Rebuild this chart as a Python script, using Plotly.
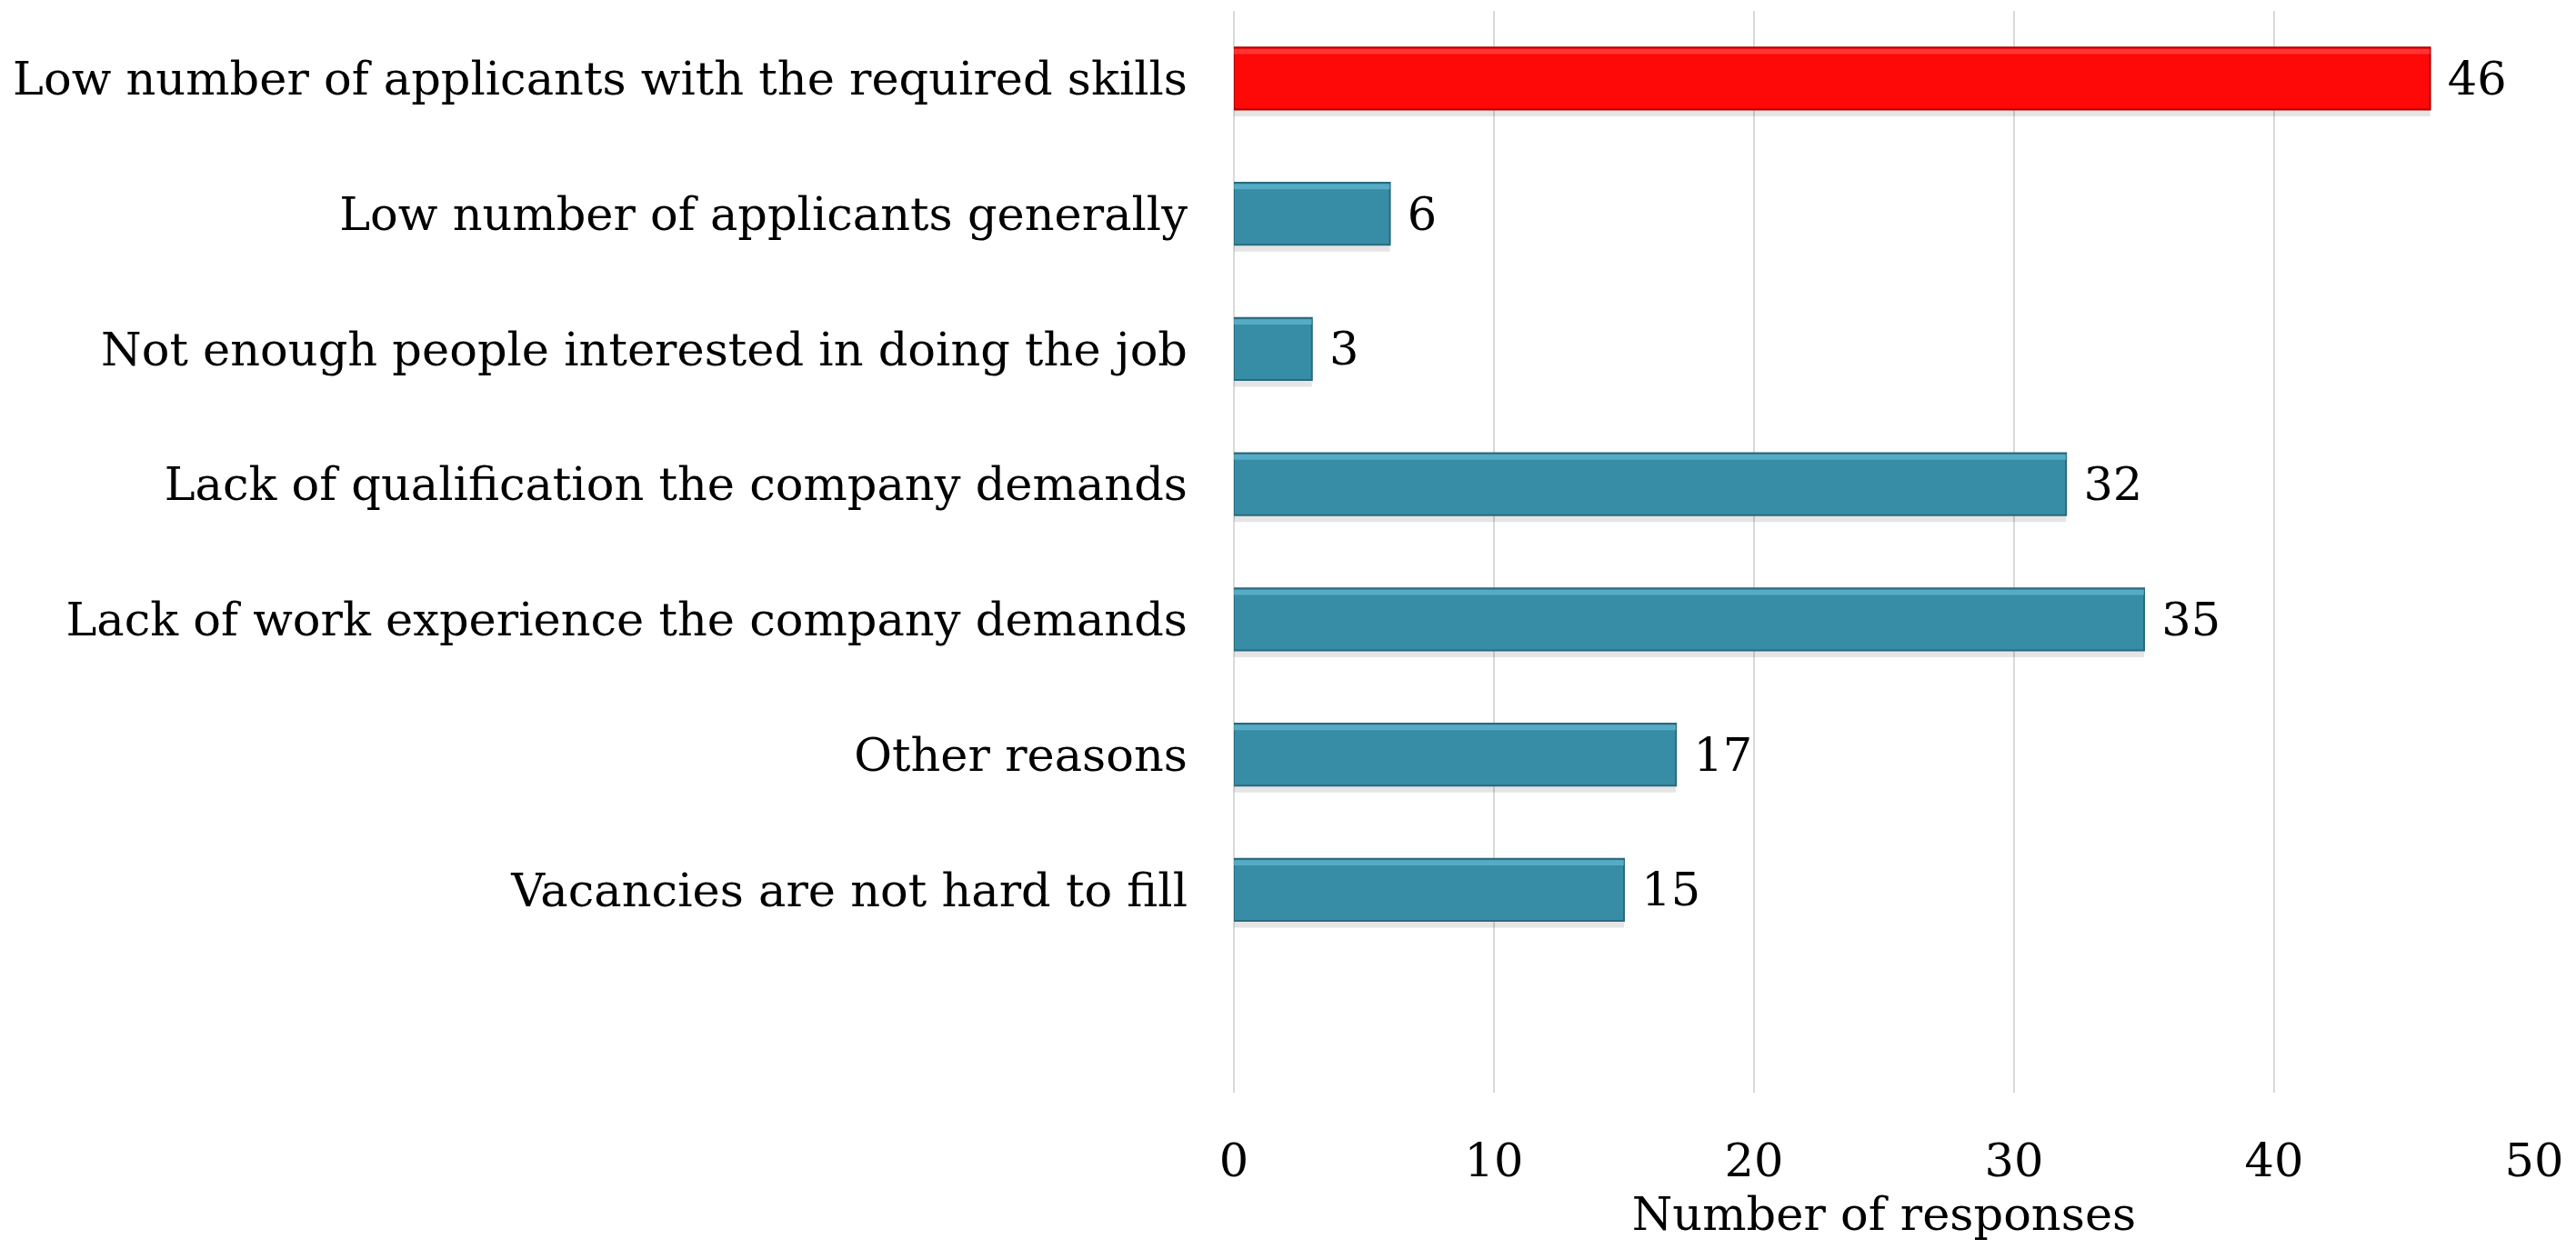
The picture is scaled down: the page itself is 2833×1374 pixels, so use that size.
import plotly.graph_objects as go

# Reasons given for hard-to-fill vacancies
reasons = [
    "Low number of applicants with the required skills",
    "Low number of applicants generally",
    "Not enough people interested in doing the job",
    "Lack of qualification the company demands",
    "Lack of work experience the company demands",
    "Other reasons",
    "Vacancies are not hard to fill",
]
responses = [46, 6, 3, 32, 35, 17, 15]

RED = "#FE0808"
TEAL = "#388DA6"
bar_colors = [RED] + [TEAL] * (len(reasons) - 1)
edge_colors = ["#B00000"] + ["#2A6A7D"] * (len(reasons) - 1)
top_colors = ["#FF5A5A"] + ["#6FC6DE"] * (len(reasons) - 1)

FONT = "DejaVu Serif"
SIZE = 51
BAR_W = 0.46

fig = go.Figure()

# soft drop shadow under each bar
fig.add_trace(go.Bar(
    y=reasons, x=responses, orientation="h",
    width=0.05, offset=BAR_W / 2,
    marker=dict(color="rgba(0,0,0,0.10)", line=dict(width=0)),
    hoverinfo="skip", showlegend=False,
))

# main bars with value labels
fig.add_trace(go.Bar(
    y=reasons, x=responses, orientation="h",
    width=BAR_W, offset=-BAR_W / 2,
    marker=dict(color=bar_colors, line=dict(color=edge_colors, width=2)),
    texttemplate=" %{x}",
    textposition="outside",
    textfont=dict(family=FONT, size=SIZE, color="black"),
    cliponaxis=False,
    showlegend=False,
))

# light bevel strip along the top edge
fig.add_trace(go.Bar(
    y=reasons, x=responses, orientation="h",
    width=0.04, offset=-BAR_W / 2 + 0.01,
    marker=dict(color=top_colors, opacity=0.55, line=dict(width=0)),
    hoverinfo="skip", showlegend=False,
))

fig.update_layout(
    width=2833, height=1374,
    margin=dict(l=1357, r=46, t=12, b=172, autoexpand=False),
    paper_bgcolor="white", plot_bgcolor="white",
    barmode="overlay",
    font=dict(family=FONT, color="black", size=SIZE),
    uniformtext=dict(mode=False),
)

fig.update_xaxes(
    range=[0, 50], dtick=10,
    showgrid=True, gridcolor="#D9D9D9", gridwidth=2,
    zeroline=True, zerolinecolor="#D9D9D9", zerolinewidth=2,
    showline=False, ticks="",
    tickfont=dict(family=FONT, size=SIZE, color="black"),
    ticklabelstandoff=40,
    automargin=False,
    title=dict(text="Number of responses",
               font=dict(family=FONT, size=SIZE, color="black"),
               standoff=0),
)

fig.update_yaxes(
    type="category",
    categoryorder="array", categoryarray=reasons,
    range=[7.5, -0.5],
    showgrid=False, zeroline=False, showline=False, ticks="",
    tickfont=dict(family=FONT, size=SIZE, color="black"),
    ticklabelstandoff=50,
    automargin=False,
)

fig.write_html("out.html")
